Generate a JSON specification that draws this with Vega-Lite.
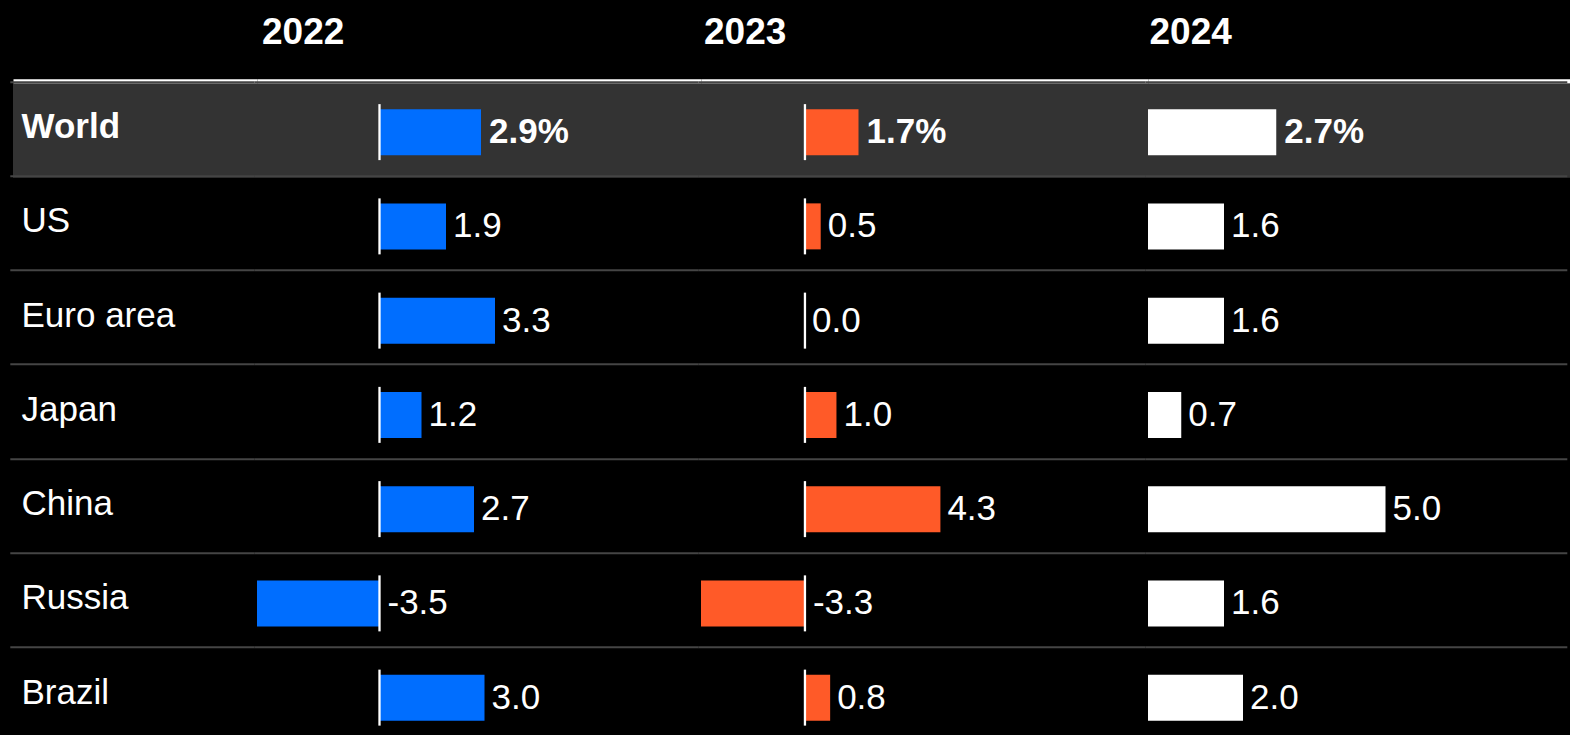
{
  "$schema": "https://vega.github.io/schema/vega-lite/v6.json",
  "background": "#000000",
  "padding": {"left": 13, "top": 13, "right": 0, "bottom": 0},
  "spacing": 0,
  "bounds": "flush",
  "data": {
    "values": [
      {"country": "World", "year": 2022, "value": 2.9, "label": "2.9%"},
      {"country": "World", "year": 2023, "value": 1.7, "label": "1.7%"},
      {"country": "World", "year": 2024, "value": 2.7, "label": "2.7%"},
      {"country": "US", "year": 2022, "value": 1.9, "label": "1.9"},
      {"country": "US", "year": 2023, "value": 0.5, "label": "0.5"},
      {"country": "US", "year": 2024, "value": 1.6, "label": "1.6"},
      {"country": "Euro area", "year": 2022, "value": 3.3, "label": "3.3"},
      {"country": "Euro area", "year": 2023, "value": 0.0, "label": "0.0"},
      {"country": "Euro area", "year": 2024, "value": 1.6, "label": "1.6"},
      {"country": "Japan", "year": 2022, "value": 1.2, "label": "1.2"},
      {"country": "Japan", "year": 2023, "value": 1.0, "label": "1.0"},
      {"country": "Japan", "year": 2024, "value": 0.7, "label": "0.7"},
      {"country": "China", "year": 2022, "value": 2.7, "label": "2.7"},
      {"country": "China", "year": 2023, "value": 4.3, "label": "4.3"},
      {"country": "China", "year": 2024, "value": 5.0, "label": "5.0"},
      {"country": "Russia", "year": 2022, "value": -3.5, "label": "-3.5"},
      {"country": "Russia", "year": 2023, "value": -3.3, "label": "-3.3"},
      {"country": "Russia", "year": 2024, "value": 1.6, "label": "1.6"},
      {"country": "Brazil", "year": 2022, "value": 3.0, "label": "3.0"},
      {"country": "Brazil", "year": 2023, "value": 0.8, "label": "0.8"},
      {"country": "Brazil", "year": 2024, "value": 2.0, "label": "2.0"}
    ]
  },
  "hconcat": [
    {
      "width": 244,
      "height": 659.75,
      "transform": [{"filter": "datum.year == 2022"}],
      "encoding": {
        "y": {"field": "country", "type": "nominal",
          "scale": {"domain": ["World", "US", "Euro area", "Japan", "China", "Russia", "Brazil"], "paddingInner": 0, "paddingOuter": 0},
          "axis": {"grid": true, "bandPosition": 0, "gridColor": "#454545", "gridWidth": 2, "labels": false, "ticks": false, "domain": false, "title": null, "translate": -2.7}}
      },
      "layer": [
        {"transform": [{"filter": "datum.country == 'World'"}], "mark": {"type": "rect", "color": "#333333", "yOffset": -1.5}},
        {"transform": [{"filter": "datum.country == 'World'"}],
          "mark": {"type": "text", "align": "left", "baseline": "middle", "dx": 8.5, "dy": -5, "fontSize": 35, "fontWeight": "bold", "color": "#ffffff"},
          "encoding": {"x": {"datum": 0, "type": "quantitative", "scale": {"domain": [0, 1], "nice": false},
            "axis": {"orient": "top", "title": null, "domain": true, "domainColor": "#ffffff", "domainWidth": 4.5, "ticks": false, "labels": false, "grid": false, "offset": 4}},
            "text": {"field": "country"}}},
        {"transform": [{"filter": "datum.country != 'World'"}],
          "mark": {"type": "text", "align": "left", "baseline": "middle", "dx": 8.5, "dy": -5, "fontSize": 35, "color": "#ffffff"},
          "encoding": {"x": {"datum": 0, "type": "quantitative"}, "text": {"field": "country"}}}
      ]
    },
    {
      "width": 444,
      "height": 659.75,
      "transform": [{"filter": "datum.year == 2022"}],
      "encoding": {
        "y": {"field": "country", "type": "nominal",
          "scale": {"domain": ["World", "US", "Euro area", "Japan", "China", "Russia", "Brazil"], "paddingInner": 0, "paddingOuter": 0},
          "axis": {"grid": true, "bandPosition": 0, "gridColor": "#454545", "gridWidth": 2, "labels": false, "ticks": false, "domain": false, "title": null, "translate": -2.7}}
      },
      "layer": [
        {"transform": [{"filter": "datum.country == 'World'"}], "mark": {"type": "rect", "color": "#333333", "yOffset": -1.5}},
        {"mark": {"type": "bar", "color": "#006EFF", "height": 46},
          "encoding": {"x": {"field": "value", "type": "quantitative", "scale": {"domain": [-3.5, 9.1857], "nice": false, "zero": false},
            "axis": {"orient": "top", "title": "2022", "domain": true, "domainColor": "#ffffff", "domainWidth": 4.5, "ticks": false, "labels": false, "grid": false, "offset": 4,
              "titleX": 4.5, "titleY": -37.6, "titleAlign": "left", "titleBaseline": "alphabetic", "titleFontSize": 37, "titleFontWeight": "bold", "titleColor": "#ffffff", "titleFont": "Liberation Sans"}}}},
        {"mark": {"type": "tick", "color": "#ffffff", "opacity": 1, "thickness": 2.3, "size": 56}, "encoding": {"x": {"datum": 0, "type": "quantitative"}}},
        {"transform": [{"filter": "datum.country == 'World'"}],
          "mark": {"type": "text", "align": "left", "baseline": "middle", "dx": 8, "fontSize": 35, "fontWeight": "bold", "color": "#ffffff"},
          "encoding": {"x": {"field": "value", "type": "quantitative"}, "text": {"field": "label"}}},
        {"transform": [{"filter": "datum.country != 'World' && datum.value >= 0"}],
          "mark": {"type": "text", "align": "left", "baseline": "middle", "dx": 7, "fontSize": 35, "color": "#ffffff"},
          "encoding": {"x": {"field": "value", "type": "quantitative"}, "text": {"field": "label"}}},
        {"transform": [{"filter": "datum.value < 0"}],
          "mark": {"type": "text", "align": "left", "baseline": "middle", "dx": 8, "fontSize": 35, "color": "#ffffff"},
          "encoding": {"x": {"datum": 0, "type": "quantitative"}, "text": {"field": "label"}}}
      ]
    },
    {
      "width": 447,
      "height": 659.75,
      "transform": [{"filter": "datum.year == 2023"}],
      "encoding": {
        "y": {"field": "country", "type": "nominal",
          "scale": {"domain": ["World", "US", "Euro area", "Japan", "China", "Russia", "Brazil"], "paddingInner": 0, "paddingOuter": 0},
          "axis": {"grid": true, "bandPosition": 0, "gridColor": "#454545", "gridWidth": 2, "labels": false, "ticks": false, "domain": false, "title": null, "translate": -2.7}}
      },
      "layer": [
        {"transform": [{"filter": "datum.country == 'World'"}], "mark": {"type": "rect", "color": "#333333", "yOffset": -1.5}},
        {"mark": {"type": "bar", "color": "#FF5A28", "height": 46},
          "encoding": {"x": {"field": "value", "type": "quantitative", "scale": {"domain": [-3.3, 10.89], "nice": false, "zero": false},
            "axis": {"orient": "top", "title": "2023", "domain": true, "domainColor": "#ffffff", "domainWidth": 4.5, "ticks": false, "labels": false, "grid": false, "offset": 4,
              "titleX": 2.5, "titleY": -37.6, "titleAlign": "left", "titleBaseline": "alphabetic", "titleFontSize": 37, "titleFontWeight": "bold", "titleColor": "#ffffff", "titleFont": "Liberation Sans"}}}},
        {"mark": {"type": "tick", "color": "#ffffff", "opacity": 1, "thickness": 2.3, "size": 56}, "encoding": {"x": {"datum": 0, "type": "quantitative"}}},
        {"transform": [{"filter": "datum.country == 'World'"}],
          "mark": {"type": "text", "align": "left", "baseline": "middle", "dx": 8, "fontSize": 35, "fontWeight": "bold", "color": "#ffffff"},
          "encoding": {"x": {"field": "value", "type": "quantitative"}, "text": {"field": "label"}}},
        {"transform": [{"filter": "datum.country != 'World' && datum.value >= 0"}],
          "mark": {"type": "text", "align": "left", "baseline": "middle", "dx": 7, "fontSize": 35, "color": "#ffffff"},
          "encoding": {"x": {"field": "value", "type": "quantitative"}, "text": {"field": "label"}}},
        {"transform": [{"filter": "datum.value < 0"}],
          "mark": {"type": "text", "align": "left", "baseline": "middle", "dx": 8, "fontSize": 35, "color": "#ffffff"},
          "encoding": {"x": {"datum": 0, "type": "quantitative"}, "text": {"field": "label"}}}
      ]
    },
    {
      "width": 422,
      "height": 659.75,
      "transform": [{"filter": "datum.year == 2024"}],
      "encoding": {
        "y": {"field": "country", "type": "nominal",
          "scale": {"domain": ["World", "US", "Euro area", "Japan", "China", "Russia", "Brazil"], "paddingInner": 0, "paddingOuter": 0},
          "axis": {"grid": true, "bandPosition": 0, "gridColor": "#454545", "gridWidth": 2, "labels": false, "ticks": false, "domain": false, "title": null, "translate": -2.7}}
      },
      "layer": [
        {"transform": [{"filter": "datum.country == 'World'"}], "mark": {"type": "rect", "color": "#333333", "yOffset": -1.5}},
        {"mark": {"type": "bar", "color": "#ffffff", "height": 46},
          "encoding": {"x": {"field": "value", "type": "quantitative", "scale": {"domain": [0, 8.884], "nice": false, "zero": false},
            "axis": {"orient": "top", "title": "2024", "domain": true, "domainColor": "#ffffff", "domainWidth": 4.5, "ticks": false, "labels": false, "grid": false, "offset": 4,
              "titleX": 1, "titleY": -37.6, "titleAlign": "left", "titleBaseline": "alphabetic", "titleFontSize": 37, "titleFontWeight": "bold", "titleColor": "#ffffff", "titleFont": "Liberation Sans"}}}},
        {"transform": [{"filter": "datum.country == 'World'"}],
          "mark": {"type": "text", "align": "left", "baseline": "middle", "dx": 8, "fontSize": 35, "fontWeight": "bold", "color": "#ffffff"},
          "encoding": {"x": {"field": "value", "type": "quantitative"}, "text": {"field": "label"}}},
        {"transform": [{"filter": "datum.country != 'World'"}],
          "mark": {"type": "text", "align": "left", "baseline": "middle", "dx": 7, "fontSize": 35, "color": "#ffffff"},
          "encoding": {"x": {"field": "value", "type": "quantitative"}, "text": {"field": "label"}}}
      ]
    }
  ],
  "config": {
    "font": "Liberation Sans",
    "view": {"stroke": null},
    "text": {"font": "Liberation Sans"}
  }
}
